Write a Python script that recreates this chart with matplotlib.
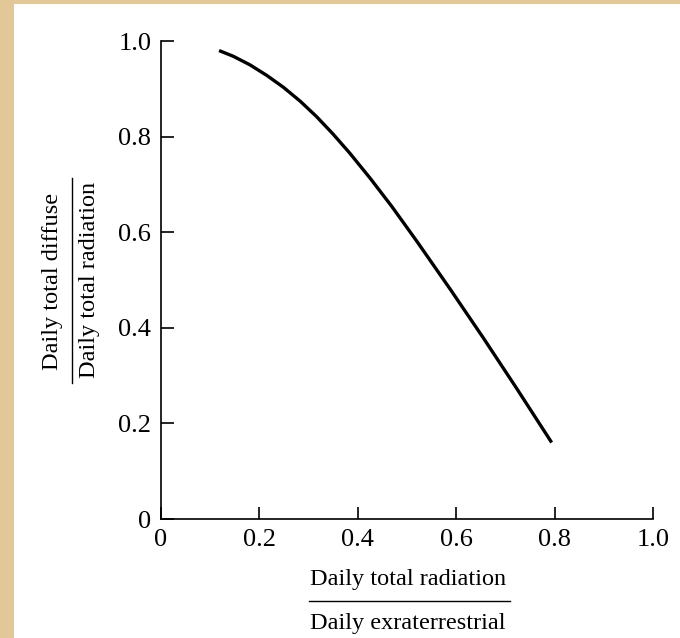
import matplotlib
matplotlib.use("Agg")
import matplotlib.pyplot as plt
from matplotlib.lines import Line2D
from matplotlib.patches import Rectangle

# Data
kt = [0.118, 0.147, 0.181, 0.215, 0.249, 0.283, 0.316, 0.350, 0.384, 0.425,
      0.469, 0.520, 0.587, 0.655, 0.723, 0.794]
diffuse_ratio = [0.980, 0.968, 0.950, 0.928, 0.903, 0.874, 0.842, 0.805, 0.765, 0.713,
                 0.654, 0.581, 0.482, 0.379, 0.273, 0.160]
x_ticks = [0, 0.2, 0.4, 0.6, 0.8, 1.0]
x_tick_labels = ["0", "0.2", "0.4", "0.6", "0.8", "1.0"]
y_ticks = [0, 0.2, 0.4, 0.6, 0.8, 1.0]
y_tick_labels = ["0", "0.2", "0.4", "0.6", "0.8", "1.0"]

plt.rcParams['font.family'] = ['Liberation Serif', 'DejaVu Serif']

W, H = 680, 638
fig = plt.figure(figsize=(W / 100, H / 100), dpi=100)
fig.patch.set_facecolor('#e2c897')
# white page area
fig.patches.append(Rectangle((14 / W, 0), 1 - 14 / W, 1 - 4 / H, transform=fig.transFigure,
                             facecolor='white', edgecolor='none', zorder=-5))

ax = fig.add_axes([161 / W, 1 - 519 / H, (653 - 161) / W, (519 - 41) / H])
ax.set_zorder(2)
ax.set_facecolor('none')
ax.plot(kt, diffuse_ratio, color='black', lw=2.4, solid_capstyle='butt', solid_joinstyle='round')
ax.set_xlim(0, 1.0)
ax.set_ylim(0, 1.0)
for s in ['top', 'right']:
    ax.spines[s].set_visible(False)
for s in ['left', 'bottom']:
    ax.spines[s].set_linewidth(1.2)
ax.set_xticks(x_ticks)
ax.set_xticklabels(x_tick_labels)
ax.set_yticks(y_ticks)
ax.set_yticklabels(y_tick_labels)
ax.tick_params(axis='both', direction='in', length=9, width=1.2, labelsize=19, color='black')
ax.tick_params(axis='x', pad=7)
ax.tick_params(axis='y', pad=7)

FS = 17.5
# x-axis fraction label
fig.text(408 / W, 1 - 579 / H, "Daily total radiation", ha='center', va='center', fontsize=FS, zorder=3)
fig.lines.append(Line2D([309 / W, 510 / W], [1 - 601 / H, 1 - 601 / H], transform=fig.transFigure,
                        color='black', lw=1.0, zorder=3))
fig.text(408 / W, 1 - 624 / H, "Daily exraterrestrial", ha='center', va='center', fontsize=FS, zorder=3)

# y-axis fraction label
fig.text(53 / W, 1 - 281 / H, "Daily total diffuse", ha='center', va='center', rotation=90, fontsize=FS, zorder=3)
fig.lines.append(Line2D([72 / W, 72 / W], [1 - 178 / H, 1 - 383 / H], transform=fig.transFigure,
                        color='black', lw=1.0, zorder=3))
fig.text(89 / W, 1 - 280 / H, "Daily total radiation", ha='center', va='center', rotation=90, fontsize=FS, zorder=3)

fig.savefig("out.png", dpi=100, facecolor=fig.get_facecolor())
